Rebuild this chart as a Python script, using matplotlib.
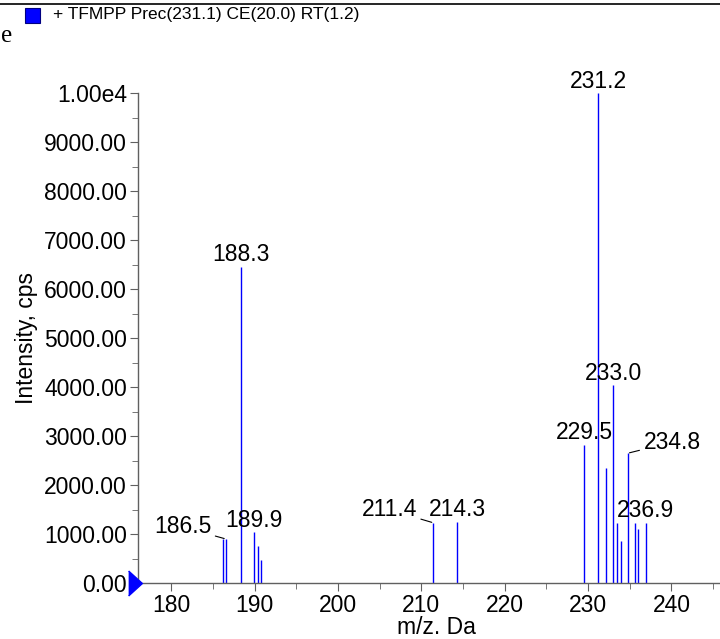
import numpy as np
import matplotlib
matplotlib.use("Agg")
import matplotlib.pyplot as plt
import matplotlib.transforms as mtransforms
from matplotlib.lines import Line2D
from matplotlib.patches import Rectangle
from matplotlib.ticker import MultipleLocator, FuncFormatter

plt.rcParams['font.family'] = ['Liberation Sans', 'DejaVu Sans']

# spectrum peaks (m/z, intensity cps)
mz = [186.15, 186.5, 188.3, 189.9, 190.4, 190.8, 211.4, 214.3, 229.5,
      231.2, 232.1, 233.0, 233.5, 234.0, 234.8, 235.6, 236.0, 236.9]
intensity = [900, 900, 6450, 1040, 760, 470, 1230, 1250, 2820,
             10000, 2350, 4040, 1230, 860, 2650, 1230, 1100, 1230]
labelled = [186.5, 188.3, 189.9, 211.4, 214.3, 229.5, 231.2, 233.0, 234.8, 236.9]

title = "+ TFMPP Prec(231.1) CE(20.0) RT(1.2)"
xlabel = "m/z. Da"
ylabel = "Intensity, cps"

# label offsets in pixels (dx, dy) from the peak top, leader line if True
label_pos = {186.5: (-43, 12, True), 211.4: (-44, 13, True), 234.8: (44, 11, True)}

fig = plt.figure(figsize=(7.2, 6.39), dpi=100)
ax = fig.add_axes([138/720, 1-583/639, (734-138)/720, (583-93)/639])

ax.vlines(mz, 0, intensity, color='#0000ff', lw=1.0)

for m, h in zip(mz, intensity):
    if m not in labelled:
        continue
    dx, dy, lead = label_pos.get(m, (0, 12, False))
    props = dict(arrowstyle='-', color='black', lw=0.8, shrinkA=1, shrinkB=1) if lead else None
    ax.annotate(f"{m:.1f}", xy=(m, h), xytext=(dx, dy), textcoords='offset pixels',
                ha='center', va='center', fontsize=16.5, arrowprops=props)

ax.set_xlim(176, 247.5)
ax.set_ylim(0, 10000)
ax.xaxis.set_major_locator(MultipleLocator(10))
ax.xaxis.set_minor_locator(MultipleLocator(5))
ax.yaxis.set_major_locator(MultipleLocator(1000))
ax.yaxis.set_minor_locator(MultipleLocator(500))
ax.yaxis.set_major_formatter(FuncFormatter(lambda v, p: "1.00e4" if v >= 10000 else f"{v:.2f}"))

for s in ['top', 'right']:
    ax.spines[s].set_visible(False)
for s in ['left', 'bottom']:
    ax.spines[s].set_color('#606060')
    ax.spines[s].set_linewidth(1.0)
ax.tick_params(which='both', direction='out', color='#606060', labelsize=16.5, labelcolor='black')
ax.tick_params(which='major', length=6, pad=2)
ax.tick_params(which='minor', length=4)

ax.set_xlabel(xlabel, fontsize=16.5, labelpad=-1)
ax.set_ylabel(ylabel, fontsize=16.5, labelpad=4)

# blue marker at the origin of the axis
off = mtransforms.ScaledTranslation(-3/100, 0, fig.dpi_scale_trans)
ax.plot([176], [0], marker=[(-0.55, -1), (0.55, 0), (-0.55, 1)], ms=18, color='#0000ff',
        clip_on=False, transform=ax.transData + off, zorder=5)

# header strip
fig.add_artist(Line2D([0, 1], [1-4/639, 1-4/639], color='black', lw=1.2))
fig.add_artist(Rectangle((25/720, 1-23/639), 15/720, 15/639, facecolor='#0000ff',
                         edgecolor='#000080', lw=0.8))
fig.text(53/720, 1-15/639, title, fontsize=12.5, va='center', ha='left')
fig.text(1/720, 1-36/639, "e", fontsize=18, va='center', ha='left', family='Liberation Serif')

fig.savefig("out.png", dpi=100)
